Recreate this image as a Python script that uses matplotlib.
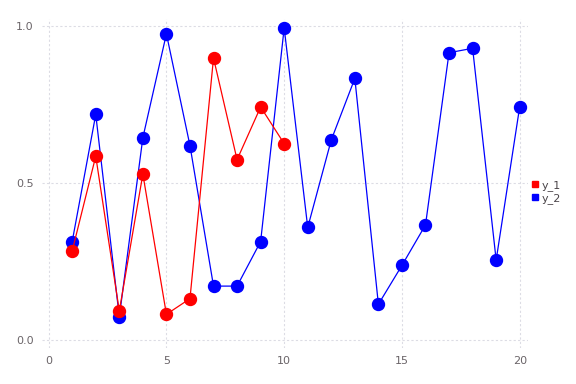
import matplotlib
matplotlib.use("Agg")
import matplotlib.pyplot as plt
from matplotlib.lines import Line2D

x_1 = list(range(1, 11))
y_1 = [0.283, 0.585, 0.092, 0.528, 0.081, 0.131, 0.898, 0.574, 0.742, 0.625]

x_2 = list(range(1, 21))
y_2 = [0.313, 0.718, 0.073, 0.644, 0.975, 0.619, 0.171, 0.171, 0.313, 0.994,
       0.358, 0.637, 0.833, 0.113, 0.237, 0.366, 0.915, 0.929, 0.254, 0.743]

x_ticks = [0, 5, 10, 15, 20]
y_ticks = [0.0, 0.5, 1.0]
labels = ["y_1", "y_2"]

fig = plt.figure(figsize=(5.76, 3.84), dpi=100)
ax = fig.add_axes([0.073, 0.094, 0.844, 0.857])

ax.plot(x_1, y_1, color="red", linewidth=0.9, marker="o", markersize=8.6,
        zorder=3)
ax.plot(x_2, y_2, color="blue", linewidth=0.9, marker="o", markersize=8.6,
        zorder=2)

ax.set_xlim(-0.28, 20.36)
ax.set_ylim(-0.026, 1.023)
ax.set_xticks(x_ticks)
ax.set_yticks(y_ticks)
ax.set_yticklabels([f"{v:.1f}" for v in y_ticks])
ax.grid(True, color="#dcdce4", linestyle=(0, (2, 2)), linewidth=0.8)
ax.set_axisbelow(True)
for s in ax.spines.values():
    s.set_visible(False)
ax.tick_params(length=0, labelsize=8, labelcolor="#6a6468", pad=6)

handles = [Line2D([], [], color=c, marker="s", linestyle="", markersize=4.8)
           for c in ["red", "blue"]]
fig.legend(handles, labels, loc="upper left", bbox_to_anchor=(0.914, 0.545),
           frameon=False, fontsize=8, handlelength=0.5, handletextpad=0.35,
           labelspacing=0.15, borderpad=0, labelcolor="#4a4448")

fig.savefig("out.png", dpi=100)
